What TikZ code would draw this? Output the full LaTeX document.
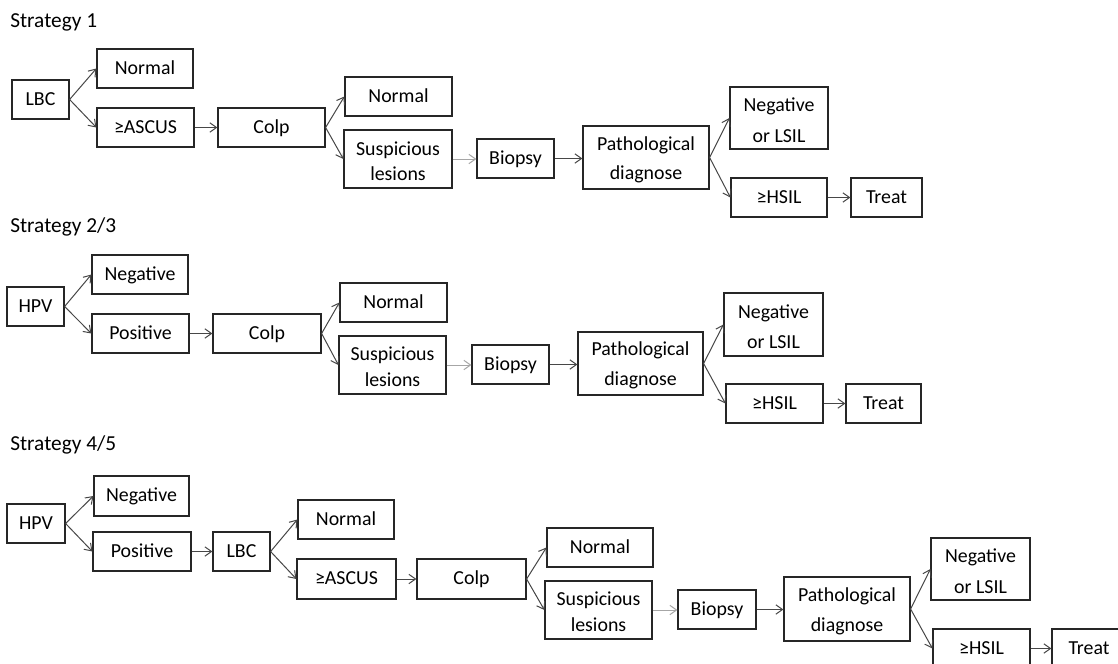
\documentclass[tikz,border=0pt]{standalone}
\usepackage{fontspec}
\setmainfont{Carlito}
\usetikzlibrary{arrows.meta}
\tikzset{
  box/.style={draw=black!85, line width=0.9pt, inner sep=0pt, align=center,
    font=\fontsize{14.9pt}{18pt}\selectfont},
  one/.style={text height=8.8pt, text depth=0pt},
  lead/.style={font=\fontsize{14.9pt}{#1}\selectfont},
  arr/.style={draw=black!72, line width=0.75pt, -{Straight Barb[length=5pt,width=7pt]}},
  larr/.style={arr, draw=black!35},
  title/.style={anchor=base west, inner sep=0pt, font=\fontsize{16pt}{19pt}\selectfont}
}
\newcommand\up{\rule{0pt}{13.5pt}}
% \nd{style}{name}{x1}{y1}{x2}{y2}{text}
\newcommand\nd[7]{\node[box,#1, minimum width={(#5-#3)*0.75pt}, minimum height={(#6-#4)*0.75pt}] (#2) at ({(#3+#5)/2},{(#4+#6)/2}) {#7};}
\begin{document}
\begin{tikzpicture}[x=0.75pt,y=-0.75pt]
\useasboundingbox (0,0) rectangle (1118,664);
\fill[white] (0,0) rectangle (1118,664);
\clip (0,0) rectangle (1118,664);

% ---------- Strategy 1
\node[title] (t1) at (10,27) {Strategy 1};
\nd{one}{lbc1}{12}{80}{69}{119}{LBC}
\nd{one}{nora1}{97}{49}{193}{88}{Normal}
\nd{one}{asc1}{97}{108}{194}{147}{≥ASCUS}
\nd{one}{colp1}{218}{108}{325}{147}{Colp}
\nd{one}{norb1}{345}{77}{452}{116}{Normal}
\nd{lead=18.75pt}{sus1}{344}{130}{452}{188}{\up Suspicious\\lesions}
\nd{one}{bio1}{477}{139}{554}{178}{Biopsy}
\nd{lead=21.5pt}{path1}{583}{126}{709}{189}{\up Pathological\\diagnose}
\nd{lead=23pt}{neg1}{730}{87}{828}{149}{\up Negative\\or LSIL}
\nd{one}{hsil1}{731}{178}{827}{217}{≥HSIL}
\nd{one}{treat1}{851}{178}{922}{217}{Treat}
\draw[arr] (lbc1.east) -- (nora1.west);
\draw[arr] (lbc1.east) -- (asc1.west);
\draw[arr] (asc1.east) -- (asc1.east -| colp1.west);
\draw[arr] (colp1.east) -- (norb1.west);
\draw[arr] (colp1.east) -- (sus1.west);
\draw[larr] (sus1.east) -- (sus1.east -| bio1.west);
\draw[arr] (bio1.east) -- (bio1.east -| path1.west);
\draw[arr] (path1.east) -- (neg1.west);
\draw[arr] (path1.east) -- (hsil1.west);
\draw[arr] (hsil1.east) -- (treat1.west);

% ---------- Strategy 2/3
\node[title] (t2) at (10,232) {Strategy 2/3};
\nd{one}{hpv2}{7}{287}{64}{326}{HPV}
\nd{one}{neg2}{92}{255}{188}{294}{Negative}
\nd{one}{pos2}{92}{314}{189}{353}{Positive}
\nd{one}{colp2}{213}{314}{321}{353}{Colp}
\nd{one}{nor2}{340}{283}{447}{322}{Normal}
\nd{lead=19.5pt}{sus2}{339}{336}{446}{394}{\up Suspicious\\lesions}
\nd{one}{bio2}{472}{345}{549}{384}{Biopsy}
\nd{lead=22.5pt}{path2}{578}{332}{703}{395}{\up Pathological\\diagnose}
\nd{lead=23pt}{negl2}{724}{293}{823}{356}{\up Negative\\or LSIL}
\nd{one}{hsil2}{726}{384}{823}{423}{≥HSIL}
\nd{one}{treat2}{846}{384}{921}{423}{Treat}
\draw[arr] (hpv2.east) -- (neg2.west);
\draw[arr] (hpv2.east) -- (pos2.west);
\draw[arr] (pos2.east) -- (pos2.east -| colp2.west);
\draw[arr] (colp2.east) -- (nor2.west);
\draw[arr] (colp2.east) -- (sus2.west);
\draw[larr] (sus2.east) -- (sus2.east -| bio2.west);
\draw[arr] (bio2.east) -- (bio2.east -| path2.west);
\draw[arr] (path2.east) -- (negl2.west);
\draw[arr] (path2.east) -- (hsil2.west);
\draw[arr] (hsil2.east) -- (treat2.west);

% ---------- Strategy 4/5
\node[title] (t3) at (10,450) {Strategy 4/5};
\nd{one}{hpv3}{7}{504}{65}{543}{HPV}
\nd{one}{neg3}{94}{476}{189}{516}{Negative}
\nd{one}{pos3}{93}{532}{191}{571}{Positive}
\nd{one}{lbc3}{213}{532}{270}{571}{LBC}
\nd{one}{nora3}{298}{500}{394}{539}{Normal}
\nd{one}{asc3}{297}{559}{396}{599}{≥ASCUS}
\nd{one}{colp3}{417}{559}{526}{599}{Colp}
\nd{one}{norb3}{547}{528}{653}{567}{Normal}
\nd{lead=19.5pt}{sus3}{545}{581}{652}{639}{\up Suspicious\\lesions}
\nd{one}{bio3}{678}{590}{756}{629}{Biopsy}
\nd{lead=22.5pt}{path3}{784}{577}{910}{641}{\up Pathological\\diagnose}
\nd{lead=23pt}{negl3}{931}{538}{1030}{600}{\up Negative\\or LSIL}
\nd{one}{hsil3}{933}{629}{1030}{668}{≥HSIL}
\nd{one}{treat3}{1052}{629}{1126}{668}{Treat}
\draw[arr] (hpv3.east) -- (neg3.west);
\draw[arr] (hpv3.east) -- (pos3.west);
\draw[arr] (pos3.east) -- (pos3.east -| lbc3.west);
\draw[arr] (lbc3.east) -- (nora3.west);
\draw[arr] (lbc3.east) -- (asc3.west);
\draw[arr] (asc3.east) -- (asc3.east -| colp3.west);
\draw[arr] (colp3.east) -- (norb3.west);
\draw[arr] (colp3.east) -- (sus3.west);
\draw[larr] (sus3.east) -- (sus3.east -| bio3.west);
\draw[arr] (bio3.east) -- (bio3.east -| path3.west);
\draw[arr] (path3.east) -- (negl3.west);
\draw[arr] (path3.east) -- (hsil3.west);
\draw[arr] (hsil3.east) -- (treat3.west);
\end{tikzpicture}
\end{document}
